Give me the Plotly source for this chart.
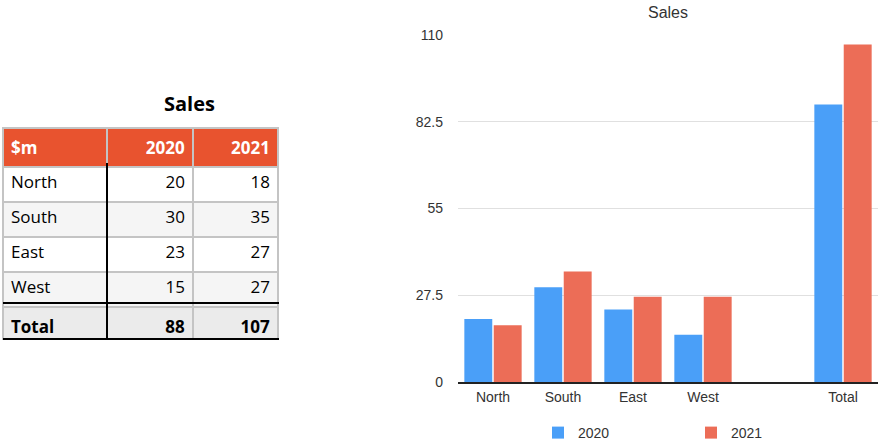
import plotly.graph_objects as go

# data
regions = ["North", "South", "East", "West"]
sales_2020 = [20, 30, 23, 15]
sales_2021 = [18, 35, 27, 27]
total_label = "Total"
y_ticks = [0, 27.5, 55, 82.5, 110]

total_2020 = sum(sales_2020)
total_2021 = sum(sales_2021)

W, H = 880, 440
BLUE = "#4a9ff8"
RED = "#ec6d57"
HEADER = "#e8532f"


def px_x(x):
    return x / W


def px_y(y):
    return 1 - y / H


fig = go.Figure()

# ---- left table ----
first_col = regions + ["<b>" + total_label + "</b>"]
col_2020 = [str(v) for v in sales_2020] + ["<b>%d</b>" % total_2020]
col_2021 = [str(v) for v in sales_2021] + ["<b>%d</b>" % total_2021]
row_fill = ["white", "#f5f5f5", "white", "#f5f5f5", "#ebebeb"]

fig.add_trace(go.Table(
    domain=dict(x=[px_x(3), px_x(278)], y=[px_y(340), px_y(128)]),
    columnwidth=[104, 86, 85],
    header=dict(
        values=["<b>$m</b>", "<b>2020</b>", "<b>2021</b>"],
        fill_color=HEADER,
        line=dict(color="#c4c4c4", width=2),
        align=["left", "right", "right"],
        font=dict(family="Open Sans", size=17, color="white"),
        height=35,
    ),
    cells=dict(
        values=[first_col, col_2020, col_2021],
        fill_color=[row_fill] * 3,
        line=dict(color="#c4c4c4", width=2),
        align=["left", "right", "right"],
        font=dict(family="Open Sans", size=17, color="black"),
        height=35,
    ),
))

# black rules inside the table
fig.add_shape(type="line", xref="paper", yref="paper",
              x0=px_x(107), x1=px_x(107), y0=px_y(163), y1=px_y(340),
              line=dict(color="black", width=2))
fig.add_shape(type="line", xref="paper", yref="paper",
              x0=px_x(3), x1=px_x(279), y0=px_y(303), y1=px_y(303),
              line=dict(color="black", width=2))
fig.add_shape(type="line", xref="paper", yref="paper",
              x0=px_x(3), x1=px_x(279), y0=px_y(339), y1=px_y(339),
              line=dict(color="black", width=2))

fig.add_annotation(text="<b>Sales</b>", xref="paper", yref="paper",
                   x=px_x(162), y=px_y(104), yanchor="middle",
                   showarrow=False,
                   font=dict(family="Open Sans", size=20, color="black"))

# ---- right bar chart ----
cats = regions + [" ", total_label]
fig.add_trace(go.Bar(name="2020", x=cats, y=sales_2020 + [None, total_2020],
                     marker_color=BLUE, marker_line_width=0))
fig.add_trace(go.Bar(name="2021", x=cats, y=sales_2021 + [None, total_2021],
                     marker_color=RED, marker_line_width=0))

fig.update_layout(
    width=W, height=H,
    margin=dict(l=0, r=0, t=0, b=0, autoexpand=False),
    paper_bgcolor="white", plot_bgcolor="white",
    font=dict(family="Liberation Sans, Arial", size=14, color="#333"),
    barmode="group", bargap=0.16, bargroupgap=0.05,
    title=dict(text="Sales", x=px_x(668), xanchor="center",
               y=px_y(12), yanchor="middle",
               font=dict(size=16, color="#333")),
    xaxis=dict(domain=[px_x(458), px_x(878)], showgrid=False,
               showline=True, linecolor="#222", linewidth=2,
               ticks="", ticklabelstandoff=1, categoryorder="array",
               categoryarray=cats, automargin=False),
    yaxis=dict(domain=[px_y(382), px_y(35)], range=[0, 110],
               tickvals=y_ticks, ticktext=[str(t) for t in y_ticks],
               gridcolor="#e0e0e0", gridwidth=1, zeroline=False,
               ticklabelstandoff=14, automargin=False),
    legend=dict(orientation="h", x=px_x(538), xanchor="left",
                y=px_y(433), yanchor="middle",
                entrywidth=108, entrywidthmode="pixels",
                font=dict(size=14, color="#333")),
)

fig.write_html("out.html", config={"displayModeBar": False},
               post_script="document.body.style.margin='0';")
